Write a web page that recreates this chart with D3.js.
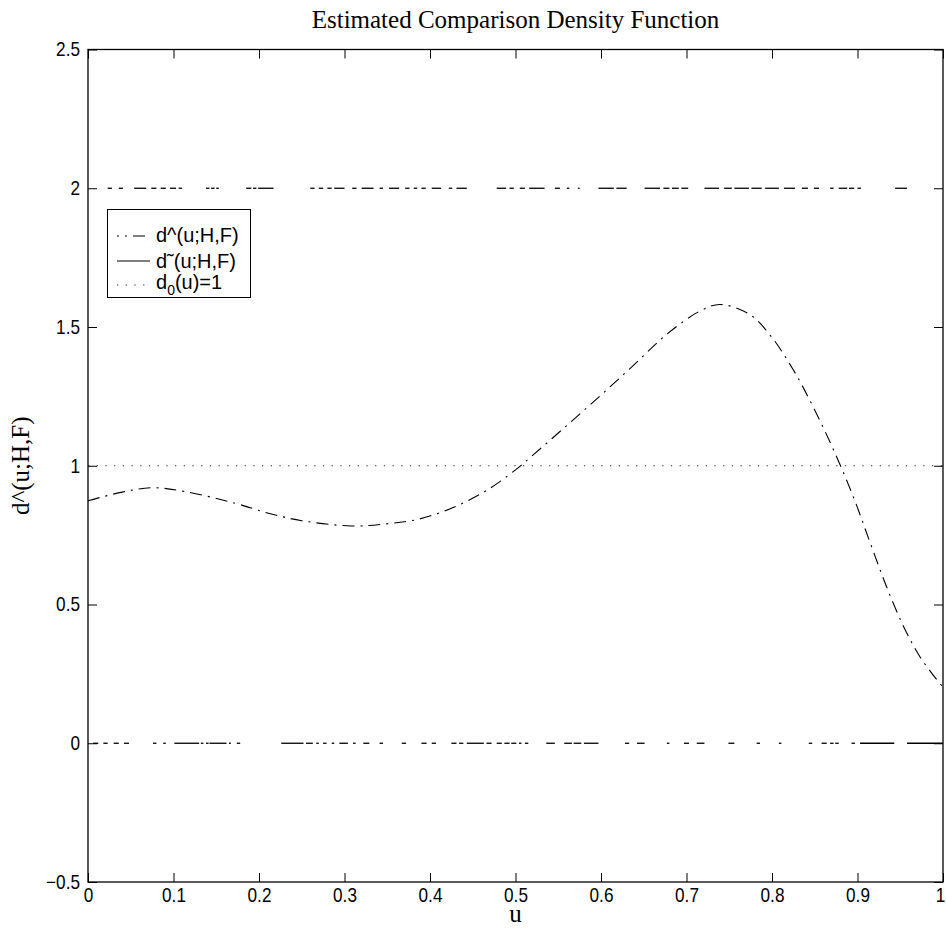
<!DOCTYPE html>
<html><head><meta charset="utf-8">
<script src="https://cdn.jsdelivr.net/npm/d3@7"></script>
<style>body{margin:0;background:#fff}svg{display:block}</style>
</head><body>
<svg id="c" width="946" height="944"></svg>
<script>
// ---- data ----
const uGrid = [0, 0.04, 0.075, 0.113, 0.172, 0.211, 0.25, 0.308, 0.347, 0.386, 0.425, 0.464, 0.5, 0.521, 0.56, 0.599, 0.638, 0.677, 0.716, 0.739, 0.774, 0.8, 0.825, 0.848, 0.872, 0.895, 0.915, 0.934, 0.954, 0.973, 0.993, 1.0];
const dHat = [0.874, 0.905, 0.921, 0.907, 0.865, 0.829, 0.802, 0.783, 0.790, 0.807, 0.847, 0.907, 0.985, 1.040, 1.145, 1.252, 1.362, 1.474, 1.558, 1.581, 1.545, 1.462, 1.345, 1.213, 1.057, 0.889, 0.721, 0.564, 0.420, 0.312, 0.228, 0.203];
const refLevel = 1;
// rug of sample positions drawn at level 2 (top) and level 0 (bottom), as [start,end] in u
const rugTopLevel = 2;
const rugTop = [[0.023,0.028],[0.036,0.041],[0.054,0.068],[0.074,0.080],[0.085,0.091],[0.096,0.103],[0.106,0.110],[0.138,0.142],[0.144,0.148],[0.150,0.153],[0.185,0.191],[0.193,0.197],[0.199,0.217],[0.260,0.265],[0.270,0.275],[0.280,0.285],[0.288,0.300],[0.309,0.314],[0.320,0.334],[0.341,0.345],[0.352,0.364],[0.371,0.376],[0.381,0.385],[0.390,0.395],[0.402,0.413],[0.422,0.426],[0.431,0.443],[0.478,0.489],[0.493,0.498],[0.505,0.511],[0.516,0.534],[0.546,0.552],[0.560,0.563],[0.573,0.575],[0.597,0.615],[0.618,0.630],[0.651,0.669],[0.673,0.680],[0.683,0.691],[0.694,0.702],[0.721,0.738],[0.744,0.753],[0.756,0.773],[0.776,0.788],[0.792,0.808],[0.814,0.827],[0.835,0.842],[0.849,0.855],[0.868,0.872],[0.878,0.888],[0.890,0.896],[0.900,0.904],[0.944,0.958]];
const rugBottomLevel = 0;
const rugBottom = [[0.006,0.012],[0.018,0.023],[0.030,0.036],[0.042,0.048],[0.076,0.080],[0.088,0.091],[0.101,0.130],[0.132,0.135],[0.138,0.141],[0.142,0.162],[0.165,0.167],[0.174,0.178],[0.226,0.252],[0.255,0.263],[0.267,0.270],[0.275,0.279],[0.285,0.288],[0.294,0.304],[0.310,0.313],[0.322,0.329],[0.341,0.345],[0.367,0.372],[0.390,0.396],[0.402,0.407],[0.425,0.431],[0.434,0.439],[0.443,0.463],[0.466,0.472],[0.478,0.484],[0.487,0.493],[0.495,0.501],[0.504,0.507],[0.511,0.515],[0.536,0.546],[0.557,0.566],[0.568,0.577],[0.580,0.597],[0.628,0.633],[0.642,0.651],[0.677,0.680],[0.697,0.703],[0.712,0.721],[0.749,0.756],[0.782,0.786],[0.808,0.811],[0.843,0.847],[0.858,0.864],[0.868,0.872],[0.874,0.878],[0.893,0.897],[0.903,0.943],[0.958,1.000]];
const xTicks = [0, 0.1, 0.2, 0.3, 0.4, 0.5, 0.6, 0.7, 0.8, 0.9, 1];
const xTickLabels = ["0","0.1","0.2","0.3","0.4","0.5","0.6","0.7","0.8","0.9","1"];
const yTicks = [-0.5, 0, 0.5, 1, 1.5, 2, 2.5];
const yTickLabels = ["\u22120.5","0","0.5","1","1.5","2","2.5"];
const titleText = "Estimated Comparison Density Function";
const xLabel = "u";
const yLabel = "d^(u;H,F)";
const legendLabels = ["d^(u;H,F)", "d\u02DC(u;H,F)", ["d","0","(u)=1"]];

// ---- drawing ----
const svg = d3.select("#c");
const L = 88, R = 943, T = 49.5, B = 882;
const x = d3.scaleLinear().domain([0, 1]).range([L, R]);
const y = d3.scaleLinear().domain([-0.5, 2.5]).range([B, T]);
const sansFont = "'Liberation Sans', Arial, Helvetica, sans-serif";
const serifFont = "'Liberation Serif', 'Times New Roman', serif";
const dashDot = "12,6,2,6";
const dotted = "1.3,7.4";
const sx = 0.86; // narrow tick-label glyphs

svg.append("rect").attr("width", 946).attr("height", 944).attr("fill", "#fff");

// title
svg.append("text").attr("x", (L + R) / 2).attr("y", 28).attr("text-anchor", "middle")
  .attr("font-family", serifFont).attr("font-size", 25).text(titleText);

// reference line d0(u)=1
svg.append("line").attr("x1", x(0)).attr("x2", x(1)).attr("y1", y(refLevel)).attr("y2", y(refLevel))
  .attr("stroke", "#333").attr("stroke-width", 1).attr("stroke-dasharray", dotted);

// rugs
function drawRug(segs, level) {
  svg.append("g").selectAll("line").data(segs).join("line")
    .attr("x1", d => x(d[0])).attr("x2", d => x(d[1]))
    .attr("y1", y(level)).attr("y2", y(level))
    .attr("stroke", "#000").attr("stroke-width", 1.3);
}
drawRug(rugTop, rugTopLevel);
drawRug(rugBottom, rugBottomLevel);

// estimated density curve
const pts = uGrid.map((u, i) => ({u, v: dHat[i]}));
svg.append("path").datum(pts)
  .attr("d", d3.line().x(d => x(d.u)).y(d => y(d.v)).curve(d3.curveCatmullRom.alpha(0.5)))
  .attr("fill", "none").attr("stroke", "#000").attr("stroke-width", 1.1)
  .attr("stroke-dasharray", dashDot);

// axes (ticks inside)
const fmtX = (d, i) => xTickLabels[i];
const fmtY = (d, i) => yTickLabels[i];
const gB = svg.append("g").attr("transform", `translate(0,${B})`)
  .call(d3.axisBottom(x).tickValues(xTicks).tickFormat(fmtX).tickSize(-9).tickPadding(6));
const gT = svg.append("g").attr("transform", `translate(0,${T})`)
  .call(d3.axisTop(x).tickValues(xTicks).tickFormat("").tickSize(-9));
const gL = svg.append("g").attr("transform", `translate(${L},0)`)
  .call(d3.axisLeft(y).tickValues(yTicks).tickFormat(fmtY).tickSize(-9).tickPadding(8));
const gR = svg.append("g").attr("transform", `translate(${R},0)`)
  .call(d3.axisRight(y).tickValues(yTicks).tickFormat("").tickSize(-9));
[gB, gT, gL, gR].forEach(g => {
  g.select(".domain").remove();
  g.selectAll(".tick line").attr("stroke", "#000").attr("stroke-width", 1);
  g.selectAll("text").attr("font-family", sansFont).attr("font-size", 20).attr("fill", "#000")
    .attr("transform", `scale(${sx},1)`);
});
gL.selectAll("text").attr("x", -8 / sx);
// keep the last x label inside the page
gB.selectAll(".tick text").filter((d, i) => i === xTicks.length - 1).attr("x", -3 / sx);

// frame
svg.append("rect").attr("x", L).attr("y", T).attr("width", R - L).attr("height", B - T)
  .attr("fill", "none").attr("stroke", "#000").attr("stroke-width", 1.3);

// axis labels
svg.append("text").attr("x", (L + R) / 2).attr("y", 922).attr("text-anchor", "middle")
  .attr("font-family", serifFont).attr("font-size", 25).text(xLabel);
svg.append("text").attr("transform", `translate(29,${(T + B) / 2}) rotate(-90)`)
  .attr("text-anchor", "middle").attr("font-family", serifFont).attr("font-size", 25).text(yLabel);

// legend
const lg = svg.append("g");
lg.append("rect").attr("x", 107.5).attr("y", 209.5).attr("width", 143).attr("height", 88)
  .attr("fill", "#fff").attr("stroke", "#000").attr("stroke-width", 1);
const legendStyles = [
  {dash: dashDot, offset: 10, w: 1.1, color: "#000", ly: 236, ty: 242},
  {dash: null, offset: 0, w: 1.1, color: "#000", ly: 261, ty: 268},
  {dash: dotted, offset: 0, w: 1, color: "#333", ly: 285, ty: 289}
];
legendStyles.forEach((s, i) => {
  const ln = lg.append("line").attr("x1", 117).attr("x2", 150).attr("y1", s.ly).attr("y2", s.ly)
    .attr("stroke", s.color).attr("stroke-width", s.w);
  if (s.dash) ln.attr("stroke-dasharray", s.dash).attr("stroke-dashoffset", s.offset);
  const t = lg.append("text").attr("x", 156).attr("y", s.ty)
    .attr("font-family", sansFont).attr("font-size", 20);
  const lab = legendLabels[i];
  if (Array.isArray(lab)) {
    t.append("tspan").text(lab[0]);
    t.append("tspan").attr("font-size", 14).attr("dy", 6).text(lab[1]);
    t.append("tspan").attr("dy", -6).text(lab[2]);
  } else {
    t.text(lab);
  }
});
</script>
</body></html>
